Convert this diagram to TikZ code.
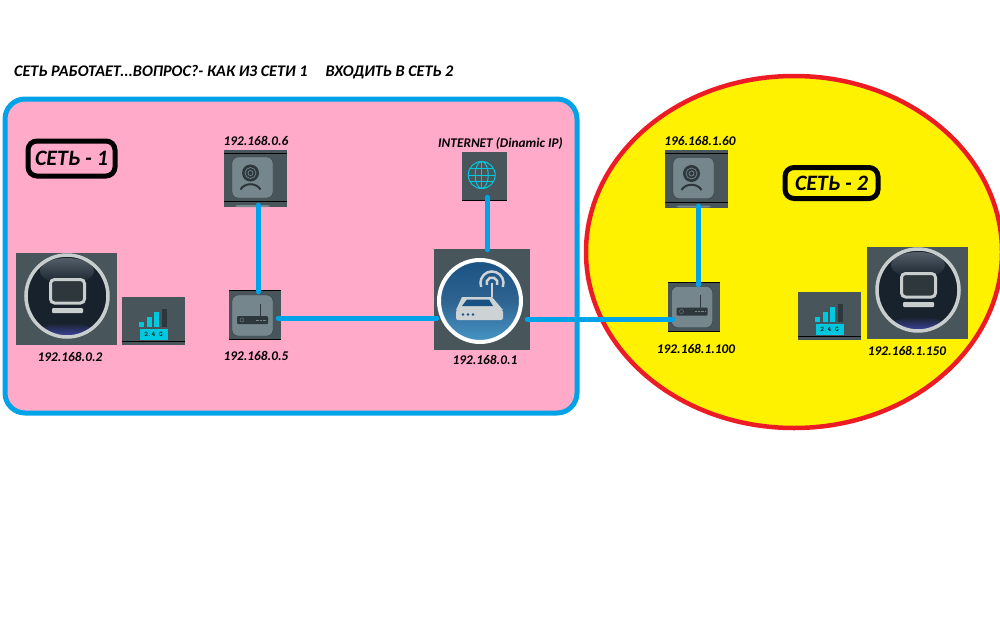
\documentclass[tikz,border=0pt]{standalone}
\usepackage{fontspec}
\setmainfont{Carlito}
\usepackage{xcolor}
\definecolor{netblue}{RGB}{0,162,232}
\definecolor{netpink}{RGB}{255,170,200}
\definecolor{netyellow}{RGB}{255,242,0}
\definecolor{netred}{RGB}{237,28,36}
\definecolor{iconbg}{RGB}{72,85,90}
\definecolor{iconkey}{RGB}{117,134,140}
\definecolor{iconcyan}{RGB}{0,200,222}
\definecolor{glyphdark}{RGB}{45,55,60}
\definecolor{pcdark}{RGB}{24,34,44}
\definecolor{pcglow}{RGB}{84,94,104}
\definecolor{pcring}{RGB}{200,205,205}
\definecolor{routerdeep}{RGB}{24,82,132}
\definecolor{routerlight}{RGB}{70,150,198}
\definecolor{routergrey}{RGB}{205,210,212}
\usetikzlibrary{arrows.meta,positioning,calc}
\tikzset{
  link/.style={line width=5pt, netblue, line cap=round},
  iplabel/.style={font=\fontsize{13.3}{15}\selectfont\bfseries\itshape, text=black, inner sep=0pt},
  netbox/.style={draw=black, line width=5pt, rounded corners=9pt, font=\fontsize{22}{24}\selectfont\bfseries\itshape, inner sep=0pt},
  iconbox/.style={fill=iconbg, inner sep=0pt},
  pcicon/.pic={
    \fill[pcdark] (0,0) circle (41);
    \shade[top color=pcglow, bottom color=pcdark] (0,-25) ellipse (27 and 13);
    \shade[top color=pcdark, bottom color=pcglow!70!blue] (0,33) ellipse (24 and 6);
    \draw[line width=3.5pt, pcring] (0,0) circle (41);
    \draw[line width=3pt, pcring, fill=glyphdark, rounded corners=4pt] (-16.5,-16.5) rectangle (17.5,7);
    \fill[pcring, rounded corners=1pt] (-15,12) rectangle (16,17);
  },
  mainrouter/.pic={
    \shade[top color=routerdeep, bottom color=routerlight, middle color=routerdeep!90!white] (0,0) circle (41);
    \draw[line width=4pt, white] (0,0) circle (41);
    \draw[line width=2.5pt, routergrey] (12,-4) -- (12,-18);
    \draw[line width=2.5pt, routergrey] (17.2,-16.2) arc (20:-200:5.5);
    \draw[line width=2.5pt, routergrey] (22.8,-14.1) arc (20:-200:11.5);
    \fill[routergrey] (-18,-4) -- (12,-4) -- (23,9) -- (-24,9) -- cycle;
    \fill[routerdeep] (-13,-1.5) -- (9,-1.5) -- (13,5) -- (-18,5) -- cycle;
    \fill[routergrey, rounded corners=2pt] (-24,9) rectangle (23,19);
    \foreach \dotx in {-17,-12,-7}
      \fill[routerdeep] (\dotx,13.5) circle (1.3);
  },
  routerkey/.pic={
    \fill[iconkey, rounded corners=6pt, draw=iconbg!70!black] (-20.5,-20.5) rectangle (20.5,20.5);
    \draw[line width=1pt, glyphdark] (8,-12) -- (8,1);
    \fill[glyphdark, rounded corners=1pt] (-15.5,.5) rectangle (15.5,8.5);
    \draw[iconkey] (-10.5,4.5) circle (2);
    \draw[iconkey, densely dotted] (3,4.5) -- (14,4.5);
  },
  camkey/.pic={
    \fill[iconkey, rounded corners=6pt, draw=iconbg!70!black] (-20.5,-20.5) rectangle (20.5,20.5);
    \fill[iconkey, rounded corners=2pt] (-17,27.5) rectangle (17,29.5);
    \fill[glyphdark] (-2,-4.5) circle (8.5);
    \draw[iconkey, line width=.7pt] (-2,-4.5) circle (5.5);
    \draw[iconkey, line width=.7pt] (-2,-4.5) circle (2.5);
    \draw[line width=2pt, glyphdark] (-12,12) .. controls (-8,5) and (4,5) .. (8,12);
  },
  wifikey/.pic={
    \foreach \barx/\bartop in {-14.5/17,-7/12,.5/7}
      \fill[iconcyan] (\barx,\bartop) rectangle ++(5,{22-\bartop});
    \fill[glyphdark] (8,4) rectangle (13.5,22);
    \node[fill=iconcyan, minimum width=28, minimum height=11, inner sep=0pt, font=\fontsize{7}{8}\selectfont\bfseries\ttfamily] at (0,29) {2.4 G};
  },
  globekey/.pic={
    \draw[line width=1pt, iconcyan] (0,0) circle (13.5);
    \draw[line width=1pt, iconcyan] (0,0) ellipse (6.5 and 13.5);
    \draw[line width=1pt, iconcyan] (0,-13.5) -- (0,13.5) (-13.5,0) -- (13.5,0);
    \draw[line width=1pt, iconcyan] (-11.5,-6.5) -- (11.5,-6.5) (-11.5,6.5) -- (11.5,6.5);
  }
}
\begin{document}
\begin{tikzpicture}[x=1pt, y=-1pt]
  \useasboundingbox (0,0) rectangle (1000,624);
  \clip (0,0) rectangle (1000,624);
  % the two networks
  \draw[netblue, fill=netpink, line width=5pt, rounded corners=20pt] (5,99) rectangle (577,413);
  \draw[netred, fill=netyellow, line width=4.5pt] (794,252) ellipse (208 and 176);

  \node[anchor=west, inner sep=0pt, font=\fontsize{16.2}{19}\selectfont\bfseries\itshape] (title) at (14,72) {СЕТЬ РАБОТАЕТ...ВОПРОС?- КАК ИЗ СЕТИ 1\hspace{18pt}ВХОДИТЬ В СЕТЬ 2};
  \node[netbox, minimum width=87, minimum height=35] (net1) at (71.5,158.5) {СЕТЬ - 1};
  \node[netbox, minimum width=93, minimum height=31] (net2) at (831.5,183) {СЕТЬ - 2};

  % network 1
  \node[iconbox, minimum width=101, minimum height=92] (pc1) at (66.5,299) {};
  \node[iconbox, minimum width=63, minimum height=48] (wifi1) at (153.5,321) {};
  \node[iconbox, minimum width=52, minimum height=50] (router1) at (255,315) {};
  \node[iconbox, minimum width=63, minimum height=57] (cam1) at (255.5,178.5) {};
  \node[iconbox, minimum width=45, minimum height=48] (inet) at (484.5,176) {};
  \node[iconbox, minimum width=96, minimum height=101] (main) at (482,299.5) {};
  % network 2
  \node[iconbox, minimum width=63, minimum height=58] (cam2) at (696.5,179) {};
  \node[iconbox, minimum width=52, minimum height=50] (router2) at (694,307) {};
  \node[iconbox, minimum width=63, minimum height=48] (wifi2) at (829.5,316) {};
  \node[iconbox, minimum width=101, minimum height=92] (pc2) at (917.5,293) {};

  % dark rules on the small tiles
  \foreach \tile in {wifi1,wifi2}
    \draw[black] ([yshift=4pt]\tile.south west) -- ([yshift=4pt]\tile.south east);
  \foreach \tile in {router1,router2}
    \draw[black] (\tile.north west) -- (\tile.north east) ([yshift=1pt]\tile.south west) -- ([yshift=1pt]\tile.south east);
  \foreach \tile in {cam1,cam2}
    \draw[black] ([yshift=-3pt]\tile.north west) -- ([yshift=-3pt]\tile.north east) ([yshift=6pt]\tile.south west) -- ([yshift=6pt]\tile.south east);
  \draw[black] (inet.south west) -- (inet.south east);

  \pic at (67,296) {pcicon};
  \pic at (918,290) {pcicon};
  \pic at (153.5,305) {wifikey};
  \pic at (829.5,300) {wifikey};
  \pic at (252.5,315.5) {routerkey};
  \pic at (692,307) {routerkey};
  \pic at (252.5,177.5) {camkey};
  \pic at (693.5,178) {camkey};
  \pic at (481.7,175) {globekey};
  \pic at (480,301) {mainrouter};

  % links
  \draw[link] ([shift={(2.5,-2)}]cam1.south) -- ([shift={(3,2)}]router1.north);
  \draw[link] ([shift={(-3,3)}]router1.east) -- ([shift={(3,18.5)}]main.west);
  \draw[link] ([shift={(2.5,-3)}]inet.south) -- ([shift={(5,1)}]main.north);
  \draw[link] ([shift={(-3,19.5)}]main.east) -- ([shift={(5,12)}]router2.west);
  \draw[link] ([shift={(1.5,-2)}]cam2.south) -- ([shift={(4,3)}]router2.north);

  % addresses
  \node[iplabel] (ippc1) at (70,357) {192.168.0.2};
  \node[iplabel] (iprouter1) at (256,356) {192.168.0.5};
  \node[iplabel] (ipcam1) at (256,141) {192.168.0.6};
  \node[iplabel] (ipinet) at (500.5,144) {INTERNET (Dinamic IP)};
  \node[iplabel] (ipmain) at (485,360) {192.168.0.1};
  \node[iplabel] (ipcam2) at (700,141) {196.168.1.60};
  \node[iplabel] (iprouter2) at (696,349) {192.168.1.100};
  \node[iplabel] (ippc2) at (907,351) {192.168.1.150};
\end{tikzpicture}
\end{document}
